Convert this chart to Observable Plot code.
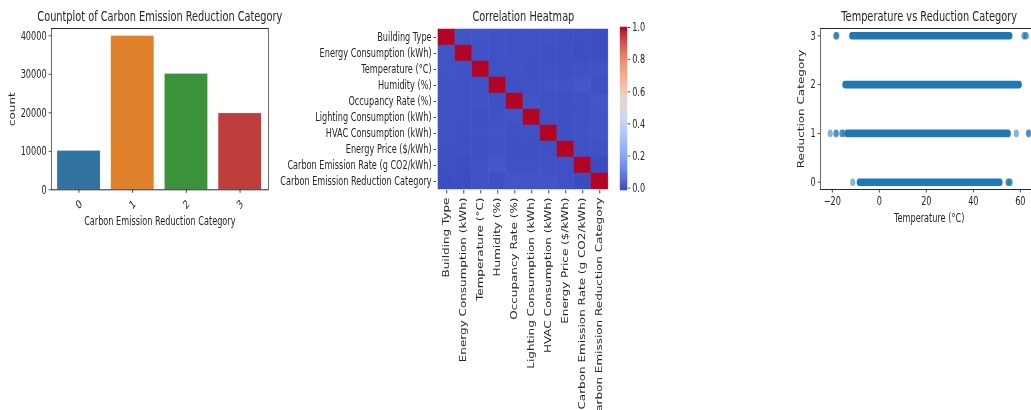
<!DOCTYPE html>
<html><head><meta charset="utf-8">
<script src="https://cdn.jsdelivr.net/npm/d3@7"></script>
<script src="https://cdn.jsdelivr.net/npm/@observablehq/plot@0.6"></script>
<style>
html,body{margin:0;padding:0;background:#fff;overflow:hidden;width:1031px;height:410px}
#wrap{position:absolute;left:0;top:0;width:1516px;height:410px;transform:scaleX(0.68);transform-origin:0 0;}
#wrap > svg{position:absolute;top:0}
</style></head><body><div id="wrap"></div>
<script>
// ---- Countplot data ----
const categories = ["0","1","2","3"];
const counts = [10050, 39900, 30050, 19800];
const barColors = ["#3274a1","#e1812c","#3a923a","#c03d3e"];
const countTicks = [0,10000,20000,30000,40000];

// ---- Heatmap data ----
const labels = ["Building Type","Energy Consumption (kWh)","Temperature (°C)","Humidity (%)","Occupancy Rate (%)","Lighting Consumption (kWh)","HVAC Consumption (kWh)","Energy Price ($/kWh)","Carbon Emission Rate (g CO2/kWh)","Carbon Emission Reduction Category"];
const corr = [
  [1.000, 0.004, 0.003, 0.001,-0.002,-0.003, 0.000,-0.004,-0.008,-0.012],
  [0.004, 1.000, 0.002,-0.001,-0.003,-0.002,-0.005,-0.006,-0.010,-0.013],
  [0.003, 0.002, 1.000,-0.002, 0.000,-0.006,-0.003,-0.004,-0.002, 0.001],
  [0.001,-0.001,-0.002, 1.000,-0.004,-0.001, 0.004, 0.000, 0.010,-0.005],
  [-0.002,-0.003,0.000,-0.004, 1.000, 0.003,-0.002,-0.005,-0.003, 0.008],
  [-0.003,-0.002,-0.006,-0.001,0.003, 1.000,-0.003,-0.006,-0.002, 0.006],
  [0.000,-0.005,-0.003, 0.004,-0.002,-0.003, 1.000,-0.004, 0.001, 0.005],
  [-0.004,-0.006,-0.004,0.000,-0.005,-0.006,-0.004, 1.000,-0.003,-0.001],
  [-0.008,-0.010,-0.002,0.010,-0.003,-0.002, 0.001,-0.003, 1.000,-0.015],
  [-0.012,-0.013,0.001,-0.005, 0.008, 0.006, 0.005,-0.001,-0.015, 1.000]
];
const cbTicks = [0,0.2,0.4,0.6,0.8,1.0];
const coolwarmStops = ["#3b4cc0","#6282ea","#8db0fe","#b8d0f9","#dddddd","#f5c4ad","#f49a7b","#de604d","#b40426"];

// ---- Scatter data (dense runs + isolated points) ----
const stripCat = [3, 2, 1, 0];
const stripLo = [-11.6, -14.5, -13.5, -8.4];
const stripHi = [55.7, 59.7, 55.0, 51.5];
const outlierTemp = [-18.6,-18.0,-18.3, 61.5,62.6,62.0, -20.9, -18.4,-18.4, -15.9,-15.9, -14.8, 58.3, 63.5,63.5, -11.3, 54.8,54.8, 55.6,55.6];
const outlierCat  = [3,3,3, 3,3,3, 1, 1,1, 1,1, 1, 1, 1,1, 0, 0,0, 0,0];
const tempTicks = [-20,0,20,40,60];
const catTicks = [0,1,2,3];

const wrap = document.getElementById("wrap");
const baseStyle = {fontFamily:"'DejaVu Sans', sans-serif", fontSize:"12px", color:"#262626", background:"transparent", overflow:"visible"};
const ink = "#262626";
const T = 14.4; // title size

function place(svg, left){ svg.style.left = left + "px"; wrap.appendChild(svg); }

// ---- Panel 1: countplot ----
const bars = categories.map((c,i)=>({cat:c, count:counts[i]}));
const p1 = Plot.plot({
  width: 420, height: 410,
  marginLeft: 75, marginRight: 420-394.1, marginTop: 28, marginBottom: 410-189.3,
  style: baseStyle,
  x: {type:"band", domain: categories, paddingInner: 0.2, paddingOuter: 0.1, label: null},
  y: {domain: [0, 41895], label: null},
  color: {type:"ordinal", domain: categories, range: barColors},
  marks: [
    Plot.barY(bars, {x:"cat", y:"count", fill:"cat"}),
    Plot.frame({stroke: ink, strokeWidth: 1}),
    Plot.axisY({ticks: countTicks, tickSize: 3.5, tickPadding: 3.5, label: null, tickFormat: d => String(d)}),
    Plot.axisX({tickSize: 3.5, label: null, tickFormat: () => ""}),
    Plot.text(bars, {x:"cat", text:"cat", frameAnchor:"bottom", lineAnchor:"middle", textAnchor:"middle", dy: 14.7, rotate: -45}),
    Plot.text(["Countplot of Carbon Emission Reduction Category"], {frameAnchor:"top", lineAnchor:"middle", textAnchor:"middle", dy:-11.8, fontSize: T}),
    Plot.text(["Carbon Emission Reduction Category"], {frameAnchor:"bottom", lineAnchor:"middle", textAnchor:"middle", dy: 31}),
    Plot.text(["count"], {frameAnchor:"left", lineAnchor:"middle", textAnchor:"middle", dx: -56.6, rotate: -90})
  ]
});
place(p1, 0);

// ---- Panel 2: heatmap ----
const cells = [];
labels.forEach((r,i)=>labels.forEach((c,j)=>cells.push({row:r, col:c, v:corr[i][j]})));
const vmin = d3.min(corr.flat());
const coolwarm = d3.interpolateRgbBasis(coolwarmStops);
const p2 = Plot.plot({
  width: 500, height: 410,
  marginLeft: 241.2, marginRight: 2.9, marginTop: 27, marginBottom: 410-190,
  style: baseStyle,
  x: {type:"band", domain: labels, padding: 0, label: null},
  y: {type:"band", domain: labels, padding: 0, label: null},
  color: {type:"linear", domain: [vmin, 1], interpolate: coolwarm},
  marks: [
    Plot.cell(cells, {x:"col", y:"row", fill:"v", stroke:"v", strokeWidth: 0.5}),
    Plot.axisX({tickRotate: -90, tickSize: 3.5, tickPadding: 3.5, label: null}),
    Plot.axisY({tickSize: 3.5, tickPadding: 3.5, label: null}),
    Plot.text(["Correlation Heatmap"], {frameAnchor:"top", lineAnchor:"middle", textAnchor:"middle", dy:-10.8, fontSize: T})
  ]
});
place(p2, 400);

// ---- colorbar ----
const steps = d3.range(0, 160).map(k => vmin + (1 - vmin) * k / 160);
const stepH = (1 - vmin) / 160;
const p3 = Plot.plot({
  width: 80, height: 410,
  marginLeft: 11.8, marginRight: 80-11.8-10.3, marginTop: 27, marginBottom: 410-190,
  style: baseStyle,
  y: {domain: [vmin, 1], label: null},
  color: {type:"linear", domain: [vmin, 1], interpolate: coolwarm},
  marks: [
    Plot.rect(steps, {y1: d => d, y2: d => d + stepH, fill: d => d, stroke: d => d, strokeWidth: 0.5}),
    Plot.axisY({anchor:"right", ticks: cbTicks, tickFormat: d3.format(".1f"), tickSize: 3.5, tickPadding: 3.5, label: null})
  ]
});
place(p3, 900);

// ---- Panel 3: scatter ----
const strips = stripCat.map((c,i)=>({cat:c, lo:stripLo[i], hi:stripHi[i]}));
const outliers = outlierTemp.map((t,i)=>({t, cat: outlierCat[i]}));
const minusFmt = d => d < 0 ? "\u2212" + (-d) : String(d);
const p4 = Plot.plot({
  width: 406, height: 410,
  marginLeft: 75.9, marginRight: 10.1, marginTop: 28, marginBottom: 410-189,
  style: baseStyle,
  x: {domain: [-25.1, 67.5], label: null},
  y: {domain: [-0.15, 3.15], label: null},
  marks: [
    Plot.ruleY(strips, {y:"cat", x1:"lo", x2:"hi", stroke:"#1f77b4", strokeWidth: 7.6, strokeLinecap:"round"}),
    Plot.dot(outliers, {x:"t", y:"cat", r: 3.8, fill:"#1f77b4", fillOpacity: 0.55}),
    Plot.frame({stroke: ink, strokeWidth: 1}),
    Plot.axisY({ticks: catTicks, tickFormat: d => String(d), tickSize: 3.5, tickPadding: 3.5, label: null}),
    Plot.axisX({ticks: tempTicks, tickFormat: minusFmt, tickSize: 3.5, tickPadding: 3.5, label: null}),
    Plot.text(["Temperature vs Reduction Category"], {frameAnchor:"top", lineAnchor:"middle", textAnchor:"middle", dy:-11.8, fontSize: T}),
    Plot.text(["Temperature (°C)"], {frameAnchor:"bottom", lineAnchor:"middle", textAnchor:"middle", dy: 28.4}),
    Plot.text(["Reduction Category"], {frameAnchor:"left", lineAnchor:"middle", textAnchor:"middle", dx: -27.2, rotate: -90})
  ]
});
place(p4, 1130);
</script></body></html>
